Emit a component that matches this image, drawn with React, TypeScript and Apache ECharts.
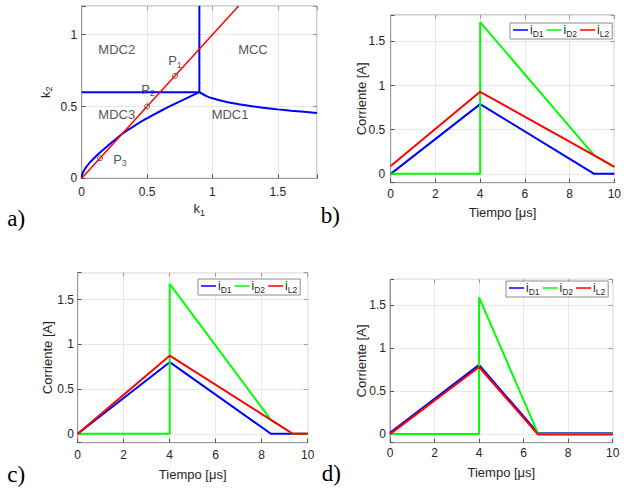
import React, { useEffect, useRef } from 'react';
import * as echarts from 'echarts';

// ---------- Panel a) : k1-k2 plane ----------
const lowerK1 = [0, 0.005, 0.02, 0.04, 0.07, 0.1, 0.14, 0.2, 0.26, 0.32, 0.4, 0.5, 0.6, 0.7, 0.8, 0.9];
const lowerK2 = [0, 0.028, 0.058, 0.085, 0.118, 0.145, 0.18, 0.227, 0.272, 0.316, 0.364, 0.418, 0.467, 0.513, 0.557, 0.6];
const rightK1 = [0.9, 0.95, 1.0, 1.1, 1.2, 1.3, 1.4, 1.5, 1.6, 1.7, 1.8];
const rightK2 = [0.6, 0.575, 0.557, 0.533, 0.516, 0.502, 0.49, 0.48, 0.471, 0.463, 0.455];
const vertK1 = [0.9, 0.9];
const vertK2 = [0.6, 1.2];
const horizK1 = [0, 0.9];
const horizK2 = [0.6, 0.6];
const diagK1 = [0, 1.2];
const diagK2 = [0, 1.2];
const pointK = [0.14, 0.5, 0.714];
const regionNames = ['MDC2', 'MCC', 'MDC3', 'MDC1'];
const regionK1 = [0.268, 1.31, 0.268, 1.135];
const regionK2 = [0.897, 0.897, 0.447, 0.447];
const pNames = ['1', '2', '3'];
const pLabelK1 = [0.714, 0.507, 0.293];
const pLabelK2 = [0.817, 0.62, 0.132];

// ---------- Panel b) ----------
const tB_D1 = [0, 4, 9.1, 10];
const iB_D1 = [0, 0.79, 0, 0];
const tB_D2 = [0, 4, 4, 9.1, 10];
const iB_D2 = [0, 0, 1.72, 0.21, 0.08];
const tB_L2 = [0, 4, 9.1, 10];
const iB_L2 = [0.09, 0.93, 0.21, 0.08];

// ---------- Panel c) ----------
const tC_D1 = [0, 4, 8.4, 10];
const iC_D1 = [0, 0.8, 0, 0];
const tC_D2 = [0, 4, 4, 8.4, 9.35, 10];
const iC_D2 = [0, 0, 1.675, 0.155, 0, 0];
const tC_L2 = [0, 4, 8.4, 9.35, 10];
const iC_L2 = [0, 0.873, 0.155, 0, 0];

// ---------- Panel d) ----------
const tD_D1 = [0, 4, 6.65, 10];
const iD_D1 = [0.015, 0.805, 0.01, 0.01];
const tD_D2 = [0, 4, 4, 6.65, 10];
const iD_D2 = [0, 0, 1.59, 0.005, 0.005];
const tD_L2 = [0, 4, 6.65, 10];
const iD_L2 = [0, 0.78, -0.005, -0.005];

const legendNames = ['iD1', 'iD2', 'iL2'];
const panelLetters = ['a)', 'b)', 'c)', 'd)'];
const yTitles = ['{m|k}{s|2}', 'Corriente [A]', 'Corriente [A]', 'Corriente [A]'];

const FONT = "'Liberation Sans', Arial, Helvetica, sans-serif";
const SERIF = "'Liberation Serif', 'Times New Roman', serif";
const TXT = '#262626';
const FRAME = '#9a9a9a';
const TICK = '#555';
const GRIDLINE = '#e8e8e8';
const BLUE = '#0000ff';
const GREEN = '#00ff00';
const RED = '#ff0000';

const zip = (xs: number[], ys: number[]) => xs.map((x, i) => [x, ys[i]]);

const subRich = (main: number, sub: number, pad: number) => ({
  m: { fontSize: main, fontFamily: FONT, fill: TXT, color: TXT },
  s: { fontSize: sub, fontFamily: FONT, fill: TXT, color: TXT, padding: [pad, 0, 0, 0] },
});

const isMultiple = (v: number, step: number) => Math.abs(v / step - Math.round(v / step)) < 1e-6;
const fmt = (step: number) => (v: number) => (isMultiple(v, step) ? String(Math.round(v * 100) / 100) : '');

export default function App() {
  const ref = useRef<HTMLDivElement>(null);
  useEffect(() => {
    if (!ref.current) return;
    const chart = echarts.init(ref.current, undefined, { renderer: 'svg' });

    const gridBoxes = [
      { left: 81.7, top: 6, width: 235.3, height: 172.3 },
      { left: 390.7, top: 15, width: 227.6, height: 167.7 },
      { left: 77.7, top: 272.7, width: 230, height: 170 },
      { left: 390, top: 279.3, width: 222.7, height: 163.4 },
    ];
    const grids = gridBoxes.map((g) => ({ ...g, show: true, borderColor: FRAME, borderWidth: 1, backgroundColor: '#fff' }));

    const xMargins = [8, 5, 6, 4];
    const yMargins = [4.5, 5.5, 3.7, 4];
    const xNameGaps = [22, 23, 25, 23];
    const yTitleCx = [45, 361.7, 47.3, 361];

    const xRange = (gi: number) => (gi === 0 ? { min: 0, max: 1.8, interval: 0.5 } : { min: 0, max: 10, interval: 2 });
    const yRange = (gi: number) =>
      gi === 0
        ? { min: 0, max: 1.2, interval: 0.5 }
        : { min: -0.1, max: 1.8, splitNumber: 4, minInterval: 0.5, maxInterval: 0.5 };

    const mainAxis = (gi: number, isX: boolean) => ({
      gridIndex: gi,
      type: 'value' as const,
      ...(isX ? xRange(gi) : yRange(gi)),
      axisLine: { show: true, onZero: false, lineStyle: { color: FRAME, width: 1 } },
      axisTick: { show: true, inside: true, length: 4, lineStyle: { color: TICK } },
      splitLine: { show: true, lineStyle: { color: GRIDLINE, width: 1 } },
      nameLocation: 'middle' as const,
      axisLabel: {
        fontSize: 12, fontFamily: FONT, color: TXT,
        margin: isX ? xMargins[gi] : yMargins[gi],
        formatter: gi === 0 || !isX ? fmt(0.5) : undefined,
      },
      nameGap: isX ? xNameGaps[gi] : 20,
    });

    // opposite-side axes: only inward tick marks (box ticks)
    const boxAxis = (gi: number, isX: boolean) => ({
      gridIndex: gi,
      type: 'value' as const,
      position: isX ? 'top' : 'right',
      ...(isX ? xRange(gi) : yRange(gi)),
      axisLine: { show: false, onZero: false },
      axisTick: { show: true, inside: true, length: 4, lineStyle: { color: FRAME } },
      splitLine: { show: false },
      axisLabel: { show: false },
    });

    const xAxes: any[] = [0, 1, 2, 3].map((gi) => {
      const a: any = mainAxis(gi, true);
      if (gi === 0) {
        a.name = '{m|k}{s|1}';
        a.nameTextStyle = { rich: subRich(13, 9, 8) };
      } else {
        a.name = 'Tiempo [μs]';
        a.nameTextStyle = { fontSize: 13, fontFamily: FONT, color: TXT };
      }
      return a;
    }).concat([0, 1, 2, 3].map((gi) => boxAxis(gi, true)));

    const yAxes: any[] = [0, 1, 2, 3].map((gi) => mainAxis(gi, false))
      .concat([0, 1, 2, 3].map((gi) => boxAxis(gi, false)));

    const line = (name: string, gi: number, data: number[][], color: string, width = 2, smooth = false) => ({
      type: 'line' as const,
      name,
      xAxisIndex: gi,
      yAxisIndex: gi,
      data,
      symbol: 'none',
      smooth,
      lineStyle: { color, width },
      itemStyle: { color },
      silent: true,
    });

    const series: any[] = [
      line('horiz', 0, zip(horizK1, horizK2), BLUE, 2),
      line('vert', 0, zip(vertK1, vertK2), BLUE, 2),
      line('lower', 0, zip(lowerK1, lowerK2), BLUE, 2, true),
      line('right', 0, zip(rightK1, rightK2), BLUE, 2, true),
      line('diag', 0, zip(diagK1, diagK2), RED, 1.5),
      {
        type: 'scatter', xAxisIndex: 0, yAxisIndex: 0, silent: true,
        data: zip(pointK, pointK), symbol: 'circle', symbolSize: 5,
        itemStyle: { color: '#fff', borderColor: '#333', borderWidth: 1 },
      },
      {
        type: 'scatter', xAxisIndex: 0, yAxisIndex: 0, silent: true,
        data: regionNames.map((n, i) => [regionK1[i], regionK2[i], n]),
        symbolSize: 0,
        label: { show: true, position: 'inside', formatter: (p: any) => p.data[2], fontSize: 13, fontFamily: FONT, color: TXT },
      },
      {
        type: 'scatter', xAxisIndex: 0, yAxisIndex: 0, silent: true,
        data: pNames.map((n, i) => [pLabelK1[i], pLabelK2[i], n]),
        symbolSize: 0,
        label: {
          show: true, position: 'inside',
          formatter: (p: any) => `{m|P}{s|${p.data[2]}}`,
          rich: subRich(13, 9, 8),
        },
      },
      line('iD1', 1, zip(tB_D1, iB_D1), BLUE),
      line('iD2', 1, zip(tB_D2, iB_D2), GREEN),
      line('iL2', 1, zip(tB_L2, iB_L2), RED),
      line('iD1', 2, zip(tC_D1, iC_D1), BLUE),
      line('iD2', 2, zip(tC_D2, iC_D2), GREEN),
      line('iL2', 2, zip(tC_L2, iC_L2), RED),
      line('iD1', 3, zip(tD_D1, iD_D1), BLUE),
      line('iD2', 3, zip(tD_D2, iD_D2), GREEN),
      line('iL2', 3, zip(tD_L2, iD_L2), RED),
    ];

    const legendPos = [
      { left: 510, top: 23 },
      { left: 198, top: 279 },
      { left: 506, top: 281 },
    ];
    const legends = legendPos.map((p) => ({
      ...p,
      data: legendNames.map((n) => ({ name: n, icon: 'rect' })),
      orient: 'horizontal',
      itemWidth: 15,
      itemHeight: 1.5,
      itemGap: 3,
      padding: [1, 3, 1, 3],
      borderColor: '#8c8c8c',
      borderWidth: 1,
      backgroundColor: '#fff',
      selectedMode: false,
      formatter: (name: string) => `{m|i}{s|${name.slice(1)}}`,
      textStyle: { padding: [0, 0, 0, -3], rich: subRich(12, 8.5, 7) },
    }));

    const letterPos = [
      { x: 7.3, y: 219 },
      { x: 320.7, y: 215.5 },
      { x: 7.3, y: 475 },
      { x: 321.7, y: 474 },
    ];
    const graphic: any[] = panelLetters.map((t, i) => ({
      type: 'text',
      left: letterPos[i].x,
      top: letterPos[i].y - 12,
      style: { text: t, font: `23px ${SERIF}`, fill: '#000' },
    }));
    yTitles.forEach((t, i) => {
      const g = gridBoxes[i];
      graphic.push({
        type: 'text',
        x: yTitleCx[i],
        y: g.top + g.height / 2,
        rotation: Math.PI / 2,
        style: {
          text: t,
          align: 'center',
          verticalAlign: 'middle',
          fontSize: 13,
          fontFamily: FONT,
          fill: TXT,
          rich: i === 0 ? subRich(13, 9, 8) : undefined,
        },
      });
    });

    chart.setOption({
      animation: false,
      backgroundColor: '#fff',
      grid: grids,
      xAxis: xAxes,
      yAxis: yAxes,
      series,
      legend: legends,
      graphic,
    });
    return () => chart.dispose();
  }, []);

  return <div ref={ref} style={{ position: 'absolute', left: 0, top: 0, width: 624, height: 489 }} />;
}
